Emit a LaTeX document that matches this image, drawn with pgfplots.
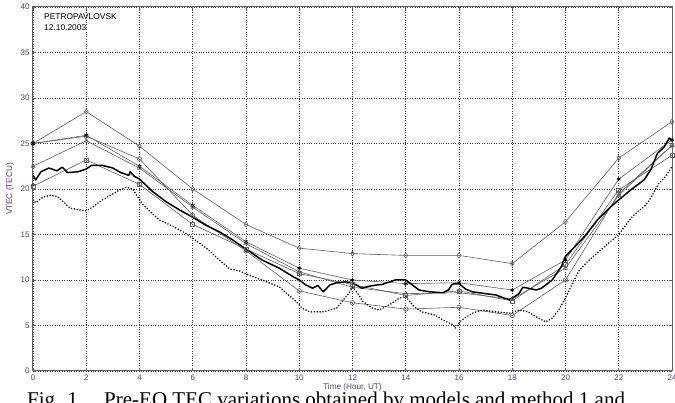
\documentclass[border=0pt]{standalone}
\usepackage{fontspec}
\setmainfont{Liberation Sans}
\newfontfamily\capfont{Liberation Serif}
\usepackage{pgfplots}
\pgfplotsset{compat=1.18}
\definecolor{ticklab}{RGB}{85,65,100}
\definecolor{modgray}{RGB}{95,95,95}
\definecolor{gridc}{RGB}{60,60,60}
\definecolor{framec}{RGB}{95,95,95}
\begin{document}
\begin{tikzpicture}[x=1pt,y=1pt]
\useasboundingbox (-33,-32) rectangle (642,371);
\begin{axis}[
  at={(0,0)}, anchor=south west, scale only axis,
  width=639pt, height=364pt,
  xmin=0, xmax=24, ymin=0, ymax=40,
  xtick={0,2,...,24}, ytick={0,5,...,40},
  grid=major,
  major grid style={gridc, line width=0.6pt, dash pattern=on 1pt off 1.4pt},
  axis line style={framec, line width=1pt},
  tick align=inside, major tick length=3pt,
  tick style={framec, line width=0.6pt},
  tick label style={font=\fontsize{8}{9}\selectfont, text=ticklab},
  /pgf/number format/assume math mode=true,
  xlabel={Time (Hour, UT)}, ylabel={VTEC (TECU)},
  label style={font=\fontsize{8.2}{9}\selectfont, text=ticklab},
  xlabel style={yshift=3pt},
  ylabel style={yshift=0pt},
  every axis plot/.append style={line join=round},
]
% model curves
\addplot[modgray, line width=0.6pt, mark=diamond, mark size=2.6pt, mark options={solid, modgray}] coordinates {
(0,25.0)(2,28.5)(4,24.7)(6,20.0)(8,16.1)(10,13.5)(12,12.9)(14,12.7)(16,12.7)(18,11.8)(20,16.4)(22,23.4)(24,27.4)};
\addplot[modgray, line width=0.6pt, mark=o, mark size=2.2pt, mark options={solid, modgray}] coordinates {
(0,25.0)(2,25.8)(4,23.3)(6,17.1)(8,13.2)(10,8.8)(12,7.5)(14,6.8)(16,7.0)(18,6.1)(20,10.0)(22,19.5)(24,24.8)};
\addplot[modgray, line width=0.6pt, mark=asterisk, mark size=2.2pt, mark options={solid, black}] coordinates {
(0,25.0)(2,25.9)(4,22.5)(6,18.2)(8,14.2)(10,11.3)(12,10.0)(14,9.6)(16,9.7)(18,8.9)(20,12.2)(22,21.1)(24,25.4)};
\addplot[modgray, line width=0.6pt, mark=triangle, mark size=2.4pt, mark options={solid, modgray}] coordinates {
(0,22.5)(2,25.3)(4,22.3)(6,18.0)(8,14.0)(10,10.9)(12,9.2)(14,8.5)(16,8.6)(18,7.9)(20,11.3)(22,19.3)(24,24.8)};
\addplot[modgray, line width=0.6pt, mark=square, mark size=2.0pt, mark options={solid, modgray}] coordinates {
(0,20.3)(2,23.2)(4,20.5)(6,16.1)(8,13.4)(10,10.7)(12,9.5)(14,8.3)(16,8.8)(18,7.7)(20,11.7)(22,19.9)(24,23.7)};
% dotted curve
\addplot[black, line width=1.7pt, line cap=round, dash pattern=on 0pt off 2.9pt, mark=none] coordinates {
(0,18.8)(0.1,18.5)(0.4,19.15)(0.64,19.3)(0.9,19.2)(1.14,18.6)(1.39,17.9)(1.76,17.7)(2.0,17.6)(2.26,18.05)(2.5,18.6)(2.9,19.3)(3.2,19.8)(3.5,20.2)(3.75,20.0)(3.9,19.3)(4.1,18.4)(4.4,17.5)(4.75,16.6)(5.25,15.9)(5.75,15.1)(6.25,14.05)(6.6,13.3)(7.0,12.2)(7.4,11.2)(7.75,11.0)(8.1,10.55)(8.6,10.0)(9.25,9.25)(9.6,8.35)(9.9,7.6)(10.1,6.9)(10.4,6.5)(10.9,6.5)(11.4,6.9)(11.6,7.6)(11.9,8.7)(12.0,9.2)(12.2,8.5)(12.4,7.6)(12.75,6.9)(13.0,6.7)(13.4,7.3)(13.75,8.0)(14.0,8.2)(14.3,7.1)(14.6,6.5)(15.1,6.15)(15.4,5.6)(15.8,5.05)(15.85,4.7)(16.1,5.6)(16.5,6.35)(16.9,6.7)(17.4,6.5)(17.9,6.35)(18.25,6.7)(18.6,6.5)(19.0,5.8)(19.25,5.4)(19.5,5.8)(19.75,6.7)(20.0,8.05)(20.25,9.55)(20.5,11.0)(20.85,12.1)(21.25,13.1)(21.6,14.0)(22.0,15.0)(22.5,16.95)(23.0,18.2)(23.2,19.0)(23.5,20.6)(23.75,21.35)(24,22.45)};
% thick observed curve
\addplot[black, line width=1.5pt, mark=none] coordinates {
(0,21.5)(0.1,21.0)(0.3,21.9)(0.6,22.3)(0.9,22.0)(1.1,22.4)(1.3,21.8)(1.7,21.9)(2.0,22.2)(2.2,22.6)(2.6,22.6)(3.0,22.3)(3.3,21.8)(3.6,21.5)(3.65,21.9)(3.8,21.4)(4.0,21.1)(4.5,19.7)(5.0,18.6)(5.5,17.7)(6.0,16.9)(6.5,16.0)(7.0,15.3)(7.5,14.4)(8.0,13.4)(8.6,12.2)(9.25,11.3)(9.75,10.4)(10.0,10.0)(10.25,9.45)(10.5,9.1)(10.7,9.4)(10.9,8.7)(11.15,9.45)(11.4,9.7)(11.75,9.8)(12.0,9.7)(12.35,9.1)(12.6,9.3)(12.9,9.45)(13.1,9.5)(13.4,9.8)(13.6,10.0)(14.0,10.0)(14.25,9.45)(14.5,8.9)(14.9,8.7)(15.4,8.6)(15.6,8.9)(15.75,9.55)(16.0,9.6)(16.25,9.0)(16.5,8.7)(17.0,8.5)(17.4,8.35)(17.7,8.0)(17.9,7.85)(18.0,8.0)(18.25,8.5)(18.4,9.2)(18.6,9.1)(18.9,8.9)(19.1,9.1)(19.5,10.0)(19.85,11.5)(20.0,12.6)(20.4,13.8)(20.75,14.9)(21.2,16.6)(21.7,18.05)(22.0,18.8)(22.45,19.9)(22.95,21.0)(23.2,22.1)(23.45,23.9)(23.7,24.6)(23.9,25.6)(24,25.3)};
\node[anchor=north west, inner sep=0pt, align=left, font=\fontsize{8.4}{11}\selectfont, text=black]
  at (rel axis cs:0,1) [xshift=11pt, yshift=-6.5pt] {PETROPAVLOVSK\\12.10.2003};
\end{axis}
\node[anchor=base west, inner sep=0pt, font=\capfont\fontsize{21}{23}\selectfont]
  at (-6,-36) {Fig. 1.\quad Pre-EQ TEC variations obtained by models and method 1 and};
\end{tikzpicture}
\end{document}
